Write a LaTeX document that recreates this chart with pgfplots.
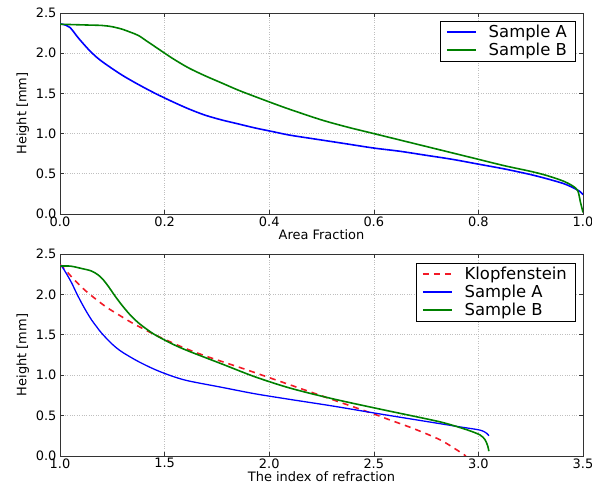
\documentclass[border=0pt]{standalone}
\usepackage{pgfplots}
\pgfplotsset{compat=1.18}
\usepackage{fontspec}
\setmainfont{DejaVu Sans}
\definecolor{mblue}{rgb}{0,0,1}
\definecolor{mgreen}{rgb}{0,0.5,0}
\definecolor{mred}{rgb}{0.95,0.1,0.15}

\pgfplotstableread{
x y
0 2.36
0.005 2.36
0.019 2.32
0.035 2.19
0.054 2.05
0.07 1.95
0.086 1.87
0.118 1.73
0.15 1.61
0.182 1.50
0.214 1.40
0.245 1.31
0.277 1.23
0.309 1.17
0.341 1.12
0.373 1.07
0.41 1.02
0.44 0.98
0.5 0.92
0.55 0.87
0.6 0.82
0.65 0.78
0.7 0.73
0.75 0.68
0.8 0.62
0.85 0.56
0.9 0.49
0.93 0.44
0.962 0.38
0.98 0.33
0.994 0.28
1.0 0.24
}\topA

\pgfplotstableread{
x y
0 2.36
0.054 2.35
0.08 2.345
0.099 2.33
0.118 2.30
0.135 2.26
0.15 2.22
0.166 2.15
0.182 2.08
0.214 1.94
0.245 1.82
0.277 1.72
0.309 1.63
0.341 1.54
0.373 1.46
0.41 1.37
0.44 1.30
0.5 1.17
0.55 1.08
0.6 1.00
0.65 0.92
0.7 0.84
0.75 0.76
0.8 0.68
0.85 0.60
0.9 0.53
0.93 0.48
0.962 0.41
0.98 0.35
0.99 0.29
0.995 0.15
1.0 0.02
}\topB

\pgfplotstableread{
x y
1.0 2.37
1.03 2.29
1.072 2.17
1.12 2.05
1.167 1.95
1.223 1.84
1.279 1.75
1.343 1.65
1.454 1.50
1.582 1.35
1.693 1.24
1.82 1.13
1.9 1.06
2.1 0.88
2.3 0.70
2.5 0.52
2.562 0.46
2.689 0.34
2.817 0.20
2.9 0.07
2.94 0.0
}\botK

\pgfplotstableread{
x y
1.0 2.36
1.008 2.35
1.03 2.26
1.056 2.14
1.08 2.01
1.104 1.89
1.128 1.78
1.152 1.68
1.175 1.60
1.199 1.52
1.247 1.39
1.295 1.29
1.374 1.17
1.454 1.07
1.534 0.99
1.613 0.93
1.773 0.85
1.932 0.77
2.1 0.70
2.3 0.62
2.53 0.52
2.769 0.42
2.912 0.36
3.008 0.32
3.04 0.28
3.05 0.25
}\botA

\pgfplotstableread{
x y
1.0 2.35
1.05 2.35
1.104 2.32
1.15 2.29
1.183 2.24
1.207 2.18
1.231 2.10
1.263 1.98
1.295 1.87
1.334 1.75
1.374 1.65
1.414 1.57
1.454 1.50
1.534 1.39
1.613 1.30
1.773 1.14
1.932 0.98
2.1 0.84
2.3 0.71
2.53 0.58
2.769 0.45
2.85 0.40
2.95 0.32
3.008 0.26
3.032 0.20
3.045 0.12
3.05 0.06
}\botB

\begin{document}
\begin{tikzpicture}[x=1bp,y=1bp]
\useasboundingbox (0,0) rectangle (592,500);
\pgfplotsset{
  every axis/.append style={
    scale only axis,
    width=523bp,
    font=\fontsize{13}{15}\selectfont,
    /pgf/number format/assume math mode=true,
    /pgf/number format/fixed,
    /pgf/number format/fixed zerofill,
    /pgf/number format/precision=1,
    axis line style={black!80, line width=0.8pt},
    tick style={black!80, line width=0.6pt},
    major tick length=4bp,
    tick align=inside,
    grid=major,
    major grid style={gray!50, dotted, line width=0.6pt},
    ymin=0, ymax=2.5,
    ytick={0,0.5,1,1.5,2,2.5},
    ylabel={Height [mm]},
    xticklabel style={yshift=1bp},
    xlabel style={yshift=3bp},
    legend cell align=left,
    legend style={draw=black, line width=0.6pt, font=\fontsize{16.5}{19}\selectfont,
      inner xsep=6bp, inner ysep=2bp, row sep=0bp, anchor=north east},
    legend image code/.code={\draw[#1, line width=1.8pt] (0bp,0bp) -- (29bp,0bp); \path (39bp,0bp);},
  }
}
\begin{axis}[
  at={(60bp,286bp)}, anchor=south west,
  height=201bp,
  xmin=0, xmax=1,
  xtick={0,0.2,0.4,0.6,0.8,1.0},
  xlabel={Area Fraction},
  legend style={at={(0.985,0.96)}},
]
\addplot[mblue, line width=1.6pt, smooth] table {\topA};
\addlegendentry{Sample A}
\addplot[mgreen, line width=1.6pt, smooth] table {\topB};
\addlegendentry{Sample B}
\end{axis}
\begin{axis}[
  at={(60bp,44bp)}, anchor=south west,
  height=202bp,
  xmin=1, xmax=3.5,
  xtick={1,1.5,2,2.5,3,3.5},
  xlabel={The index of refraction},
  legend style={at={(0.985,0.955)}},
]
\addplot[mred, line width=1.6pt, dash pattern=on 6bp off 5bp, smooth] table {\botK};
\addlegendentry{Klopfenstein}
\addplot[mblue, line width=1.3pt, smooth] table {\botA};
\addlegendentry{Sample A}
\addplot[mgreen, line width=1.6pt, smooth] table {\botB};
\addlegendentry{Sample B}
\end{axis}
\end{tikzpicture}
\end{document}
